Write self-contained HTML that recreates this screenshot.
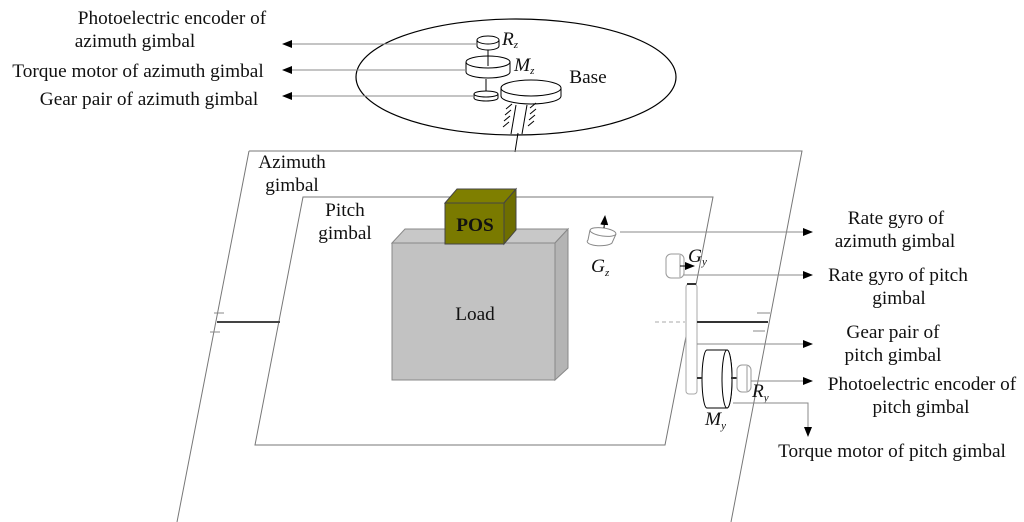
<!DOCTYPE html>
<html><head><meta charset="utf-8"><style>
html,body{margin:0;padding:0;background:#fff;}
svg{display:block;}
text{font-family:"Liberation Serif",serif;font-size:19.3px;fill:#111;}
.m{text-anchor:middle;}
</style></head><body>
<svg width="1024" height="522" viewBox="0 0 1024 522" xmlns="http://www.w3.org/2000/svg">
<defs>
<marker id="ah" markerWidth="10" markerHeight="8" refX="9" refY="4" orient="auto" markerUnits="userSpaceOnUse">
<path d="M0,0 L10,4 L0,8 z" fill="#000"/></marker>
</defs>
<ellipse cx="516" cy="77" rx="160" ry="58" fill="none" stroke="#000" stroke-width="1.2"/>
<text class="m" x="588" y="83">Base</text>
<g fill="#fff" stroke="#000" stroke-width="1">
<path d="M477,40 L477,46 A11,4 0 0 0 499,46 L499,40"/>
<ellipse cx="488" cy="40" rx="11" ry="4"/>
<line x1="488" y1="50" x2="488" y2="60"/>
<path d="M466,62 L466,72 A22,6 0 0 0 510,72 L510,62"/>
<ellipse cx="488" cy="62" rx="22" ry="6"/>
<line x1="488" y1="52" x2="488" y2="66"/>
<line x1="486" y1="79" x2="486" y2="93"/>
<path d="M474,94 L474,98 A12,3 0 0 0 498,98 L498,94"/>
<ellipse cx="486" cy="94" rx="12" ry="3"/>
<path d="M501,88 L501,96 A30,8 0 0 0 561,96 L561,88"/>
<ellipse cx="531" cy="88" rx="30" ry="8"/>
</g>
<g stroke="#000" stroke-width="1" fill="none">
<line x1="516" y1="105" x2="511" y2="134"/>
<line x1="527" y1="105" x2="522" y2="134"/>
<line x1="518" y1="133" x2="515" y2="152"/>
<line x1="506" y1="109" x2="512" y2="104"/><line x1="505" y1="115" x2="511" y2="110"/><line x1="504" y1="121" x2="510" y2="116"/><line x1="503" y1="127" x2="509" y2="122"/>
<line x1="530" y1="108" x2="536" y2="103"/><line x1="530" y1="114" x2="536" y2="109"/><line x1="529" y1="120" x2="535" y2="115"/><line x1="528" y1="126" x2="534" y2="121"/>
</g>
<text x="502" y="45" font-style="italic">R<tspan font-size="11" dy="3">z</tspan></text>
<text x="514" y="71" font-style="italic">M<tspan font-size="11" dy="3">z</tspan></text>
<g stroke="#888" stroke-width="1">
<line x1="478" y1="44" x2="283" y2="44" marker-end="url(#ah)"/>
<line x1="466" y1="70" x2="283" y2="70" marker-end="url(#ah)"/>
<line x1="474" y1="96" x2="283" y2="96" marker-end="url(#ah)"/>
</g>
<text class="m" x="172" y="24">Photoelectric encoder of</text>
<text class="m" x="135" y="47">azimuth gimbal</text>
<text class="m" x="138" y="77">Torque motor of azimuth gimbal</text>
<text class="m" x="149" y="105">Gear pair of azimuth gimbal</text>
<path d="M249,151 L802,151 L731,522 M249,151 L177,522" fill="none" stroke="#777" stroke-width="1"/>
<path d="M303,197 L713,197 L665,445 L255,445 Z" fill="none" stroke="#777" stroke-width="1"/>
<text class="m" x="292" y="168">Azimuth</text>
<text class="m" x="292" y="191">gimbal</text>
<text class="m" x="345" y="216">Pitch</text>
<text class="m" x="345" y="239">gimbal</text>
<g stroke="#444">
<line x1="217" y1="322" x2="280" y2="322" stroke-width="2"/>
<line x1="214" y1="313" x2="224" y2="313" stroke="#888"/>
<line x1="210" y1="332" x2="220" y2="332" stroke="#888"/>
</g>
<path d="M392,243 L405,229 L568,229 L555,243 Z" fill="#c8c8c8" stroke="#888"/>
<path d="M555,243 L568,229 L568,368 L555,380 Z" fill="#b4b4b4" stroke="#888"/>
<rect x="392" y="243" width="163" height="137" fill="#c2c2c2" stroke="#888"/>
<text class="m" x="475" y="320">Load</text>
<path d="M445,203 L457,189 L516,189 L504,203 Z" fill="#7f7f00" stroke="#444"/>
<path d="M504,203 L516,189 L516,230 L504,244 Z" fill="#6e6e00" stroke="#444"/>
<rect x="445" y="203" width="59" height="41" fill="#7a7a00" stroke="#444"/>
<text class="m" x="475" y="231" font-weight="bold" font-size="19">POS</text>
<g stroke="#888" fill="#fff">
<path d="M590,230 L588,240 A12,4 0 0 0 612,243 L616,234"/>
<ellipse cx="603" cy="232" rx="13" ry="4" transform="rotate(8 603 232)"/>
</g>
<line x1="604" y1="228" x2="605" y2="216" stroke="#000" marker-end="url(#ah)"/>
<text x="591" y="272" font-style="italic" font-size="21">G<tspan font-size="11" dy="4">z</tspan></text>
<line x1="620" y1="232" x2="812" y2="232" stroke="#888" marker-end="url(#ah)"/>
<g stroke="#999" fill="#fff">
<rect x="666" y="254" width="18" height="24" rx="5"/>
<line x1="680" y1="255" x2="680" y2="277"/>
</g>
<line x1="680" y1="266" x2="694" y2="266" stroke="#000" marker-end="url(#ah)"/>
<text x="688" y="262" font-style="italic">G<tspan font-size="11" dy="3">y</tspan></text>
<line x1="684" y1="275" x2="812" y2="275" stroke="#888" marker-end="url(#ah)"/>
<rect x="686" y="284" width="11" height="110" rx="3" fill="#fff" stroke="#aaa"/>
<line x1="687" y1="284" x2="696" y2="284" stroke="#333" stroke-width="2"/>
<line x1="655" y1="322" x2="685" y2="322" stroke="#aaa" stroke-dasharray="4,3"/>
<line x1="697" y1="322" x2="768" y2="322" stroke="#333" stroke-width="2"/>
<line x1="757" y1="313" x2="770" y2="313" stroke="#888"/>
<line x1="753" y1="331" x2="765" y2="331" stroke="#888"/>
<line x1="697" y1="344" x2="812" y2="344" stroke="#888" marker-end="url(#ah)"/>
<g stroke="#000" fill="#fff" stroke-width="1">
<path d="M707,350 L727,350 A5,29 0 0 1 727,408 L707,408 A5,29 0 0 1 707,350 Z"/>
<ellipse cx="727" cy="379" rx="5" ry="29"/>
</g>
<line x1="697" y1="378" x2="702" y2="378" stroke="#333" stroke-width="2"/>
<line x1="731" y1="378" x2="737" y2="378" stroke="#333" stroke-width="2"/>
<g stroke="#999" fill="#fff">
<rect x="737" y="365" width="14" height="27" rx="5"/>
<line x1="747" y1="366" x2="747" y2="391"/>
</g>
<line x1="751" y1="381" x2="812" y2="381" stroke="#888" marker-end="url(#ah)"/>
<text x="752" y="397" font-style="italic" font-size="19">R<tspan font-size="11" dy="4">y</tspan></text>
<text x="705" y="425" font-style="italic" font-size="19">M<tspan font-size="11" dy="4">y</tspan></text>
<path d="M733,403 L808,403 L808,436" fill="none" stroke="#888" marker-end="url(#ah)"/>
<text class="m" x="896" y="224">Rate gyro of</text>
<text class="m" x="895" y="247">azimuth gimbal</text>
<text class="m" x="898" y="281">Rate gyro of pitch</text>
<text class="m" x="899" y="304">gimbal</text>
<text class="m" x="893" y="338">Gear pair of</text>
<text class="m" x="893" y="361">pitch gimbal</text>
<text class="m" x="922" y="390">Photoelectric encoder of</text>
<text class="m" x="921" y="413">pitch gimbal</text>
<text class="m" x="892" y="457">Torque motor of pitch gimbal</text>
</svg>
</body></html>
